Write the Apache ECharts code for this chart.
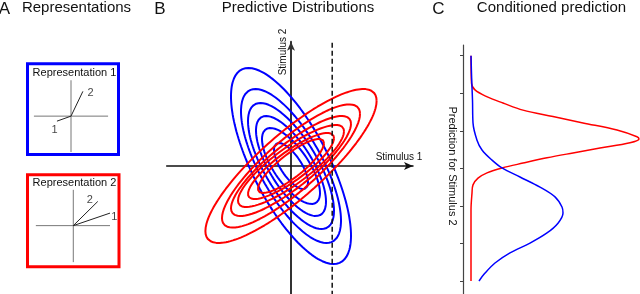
<!DOCTYPE html>
<html><head><meta charset="utf-8">
<script src="https://cdn.jsdelivr.net/npm/echarts@6/dist/echarts.min.js"></script>
<style>html,body{margin:0;padding:0;background:#fff}#c{width:640px;height:294px}</style>
</head><body><div id="c"></div>
<script>
// ---------- Panel A: representation vectors (units of the small axes, origin at the cross) ----------
const vectorNames = ['1', '2'];
const rep1Vectors = [[-0.39, -0.14], [0.33, 0.69]];
const rep1LabelPos = [[-0.46, -0.39], [0.54, 0.64]];
const rep1CrossH = [-1.03, 1.03];
const rep1CrossV = [-1.0, 1.0];
const rep2Vectors = [[1.02, 0.35], [0.68, 0.675]];
const rep2LabelPos = [[1.14, 0.24], [0.46, 0.72]];
const rep2CrossH = [-1.04, 1.02];
const rep2CrossV = [-1.02, 1.0];

// ---------- Panel B: predictive distributions (contour ellipses) ----------
const blueHalfWidth  = [1.5, 1.25, 1.075, 0.875, 0.725, 0.425];
const blueHalfHeight = [2.45, 1.925, 1.575, 1.25, 0.95, 0.575];
const blueCorr = -0.71;
const redHalfWidth  = [2.14, 1.725, 1.5, 1.325, 1.075, 0.825];
const redHalfHeight = [1.925, 1.54, 1.25, 1.025, 0.825, 0.675];
const redCorr = 0.845;
const conditionX = 1.03;

// ---------- Panel C: conditioned prediction ----------
const predTicks = [0, 1, 2, 3, 4, 5, 6];
const redPredY    = [6.0, 5.27, 5.09, 4.91, 4.74, 4.55, 4.38, 4.21, 4.02, 3.84, 3.78, 3.68, 3.54, 3.41, 3.28, 3.14, 3.01, 2.88, 2.74, 2.56, 2.34, 1.89, 0];
const redDensity  = [0, 0.005, 0.04, 0.157, 0.32, 0.52, 0.82, 1.12, 1.46, 1.66, 1.68, 1.59, 1.29, 1.02, 0.76, 0.52, 0.31, 0.16, 0.07, 0.02, 0.01, 0, 0];
const bluePredY   = [6.0, 5.35, 4.82, 4.21, 3.75, 3.49, 3.22, 3.01, 2.77, 2.50, 2.24, 1.97, 1.81, 1.54, 1.28, 1.01, 0.75, 0.48, 0.21, 0];
const blueDensity = [0, 0.007, 0.015, 0.02, 0.06, 0.11, 0.21, 0.31, 0.49, 0.69, 0.84, 0.91, 0.92, 0.87, 0.76, 0.59, 0.39, 0.24, 0.14, 0.08];

const BLUE = '#0000ff', RED = '#ff0000';
const FONT = '"Liberation Sans", Arial, Helvetica, sans-serif';

function ellipse(hw, hh, rho) {
  const pts = [], n = 160, s = Math.sqrt(1 - rho * rho);
  for (let i = 0; i <= n; i++) {
    const t = 2 * Math.PI * i / n;
    pts.push([hw * Math.cos(t), hh * (rho * Math.cos(t) + s * Math.sin(t))]);
  }
  return pts;
}

const chart = echarts.init(document.getElementById('c'), null, {renderer: 'canvas'});
const hidden = {show: false};
const series = [];

function repSeries(idx, vecs, labs, ch, cv) {
  const base = {type: 'line', xAxisIndex: idx, yAxisIndex: idx, showSymbol: false, symbol: 'none', silent: true, animation: false};
  series.push(Object.assign({}, base, {data: [[ch[0], 0], [ch[1], 0]], lineStyle: {color: '#777', width: 1}}));
  series.push(Object.assign({}, base, {data: [[0, cv[0]], [0, cv[1]]], lineStyle: {color: '#777', width: 1}}));
  vecs.forEach(v => series.push(Object.assign({}, base, {data: [[0, 0], v], lineStyle: {color: '#222', width: 1}})));
  series.push({type: 'scatter', xAxisIndex: idx, yAxisIndex: idx, symbolSize: 0, silent: true, animation: false,
    data: labs.map((p, i) => ({name: vectorNames[i], value: p})),
    label: {show: true, position: 'inside', formatter: p => p.name, fontSize: 11, fontFamily: FONT, color: '#111'}});
}
repSeries(0, rep1Vectors, rep1LabelPos, rep1CrossH, rep1CrossV);
repSeries(1, rep2Vectors, rep2LabelPos, rep2CrossH, rep2CrossV);

blueHalfWidth.forEach((hw, i) => series.push({type: 'line', xAxisIndex: 2, yAxisIndex: 2, showSymbol: false, symbol: 'none', animation: false,
  data: ellipse(hw, blueHalfHeight[i], blueCorr), lineStyle: {color: BLUE, width: 2}}));
redHalfWidth.forEach((hw, i) => series.push({type: 'line', xAxisIndex: 2, yAxisIndex: 2, showSymbol: false, symbol: 'none', animation: false,
  data: ellipse(hw, redHalfHeight[i], redCorr), lineStyle: {color: RED, width: 2}}));
series.push({type: 'line', xAxisIndex: 2, yAxisIndex: 2, showSymbol: false, symbol: 'none', animation: false,
  data: [[conditionX, 3.08], [conditionX, -3.2]], lineStyle: {color: '#111', width: 1.5, type: [5, 3]}});

series.push({type: 'line', xAxisIndex: 3, yAxisIndex: 3, showSymbol: false, symbol: 'none', animation: false, smooth: 0.35,
  data: redPredY.map((y, i) => [redDensity[i], y]), lineStyle: {color: RED, width: 1.5}});
series.push({type: 'line', xAxisIndex: 3, yAxisIndex: 3, showSymbol: false, symbol: 'none', animation: false, smooth: 0.35,
  data: bluePredY.map((y, i) => [blueDensity[i], y]), lineStyle: {color: BLUE, width: 1.5}});

function txt(text, x, y, size, opts) {
  return Object.assign({type: 'text', x: x, y: y, silent: true,
    style: {text: text, font: size + 'px ' + FONT, fill: '#111', textAlign: 'center', textVerticalAlign: 'middle'}}, opts || {});
}

const option = {
  animation: false,
  backgroundColor: '#fff',
  grid: [
    {left: 27.5, top: 63.8, width: 91, height: 90.7, show: true, borderColor: BLUE, borderWidth: 3, backgroundColor: 'transparent'},
    {left: 27.5, top: 174.8, width: 91.5, height: 92, show: true, borderColor: RED, borderWidth: 3, backgroundColor: 'transparent'},
    {left: 166.7, top: 41.7, width: 246.3, height: 252.3},
    {left: 463, top: 45, width: 177, height: 249}
  ],
  xAxis: [
    {type: 'value', gridIndex: 0, min: -1.208, max: 1.319, show: false},
    {type: 'value', gridIndex: 1, min: -1.272, max: 1.27, show: false},
    {type: 'value', gridIndex: 2, min: -3.1075, max: 3.05, axisLine: {onZero: true, symbol: ['none', 'arrow'], symbolSize: [6, 9], lineStyle: {color: '#111', width: 1.5}},
      axisTick: hidden, axisLabel: hidden, splitLine: hidden},
    {type: 'value', gridIndex: 3, min: -0.08, max: 1.69, show: false}
  ],
  yAxis: [
    {type: 'value', gridIndex: 0, min: -1.069, max: 1.458, show: false},
    {type: 'value', gridIndex: 1, min: -1.15, max: 1.42, show: false},
    {type: 'value', gridIndex: 2, min: -3.2, max: 3.1075, axisLine: {onZero: true, symbol: ['none', 'arrow'], symbolSize: [6, 9], lineStyle: {color: '#333', width: 2}},
      axisTick: hidden, axisLabel: hidden, splitLine: hidden},
    {type: 'value', gridIndex: 3, min: -0.346, max: 6.285, axisLine: {show: true, onZero: false, lineStyle: {color: '#444', width: 1.2}},
      axisTick: {show: true, length: 3, customValues: predTicks, lineStyle: {color: '#444', width: 1}}, axisLabel: hidden, splitLine: hidden}
  ],
  series: series,
  graphic: [
    txt('A', 4.5, 9, 17),
    txt('Representations', 76.5, 8, 15),
    txt('B', 160, 9, 17),
    txt('Predictive Distributions', 298, 8, 15),
    txt('C', 438.5, 9, 17),
    txt('Conditioned prediction', 551.5, 8, 15),
    txt('Representation 1', 74.5, 72.7, 11),
    txt('Representation 2', 74.5, 182.7, 11),
    txt('Stimulus 1', 399, 157.5, 10),
    txt('Stimulus 2', 283, 52, 10, {rotation: Math.PI / 2}),
    txt('Prediction for Stimulus 2', 452, 166, 11, {rotation: -Math.PI / 2})
  ]
};
chart.setOption(option);
</script></body></html>
